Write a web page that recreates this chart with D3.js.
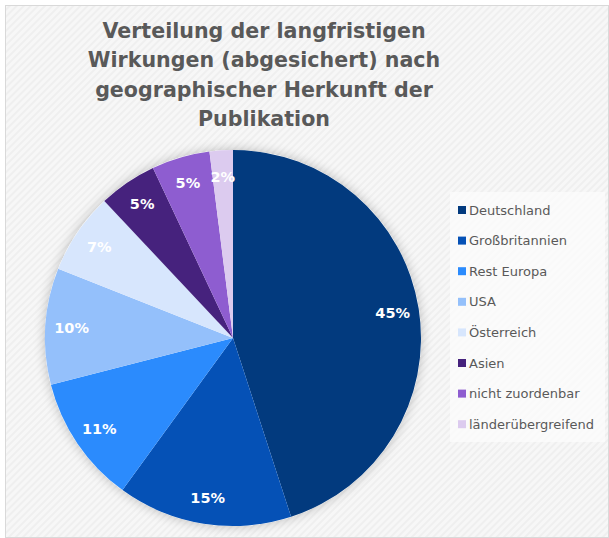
<!DOCTYPE html>
<html>
<head>
<meta charset="utf-8">
<script src="https://cdn.jsdelivr.net/npm/d3@7"></script>
<style>
  html, body { margin: 0; padding: 0; background: #fff; }
  svg { display: block; font-family: "DejaVu Sans", Verdana, sans-serif; }
</style>
</head>
<body>
<div id="chart"></div>
<script>
// data
const titleLines = [
  'Verteilung der langfristigen',
  'Wirkungen (abgesichert) nach',
  'geographischer Herkunft der',
  'Publikation'
];
const categories = ['Deutschland', 'Großbritannien', 'Rest Europa', 'USA',
                    'Österreich', 'Asien', 'nicht zuordenbar', 'länderübergreifend'];
const values = [45, 15, 11, 10, 7, 5, 5, 2];
const colors = ['#023a7e', '#0551b6', '#2b8bfd', '#94c0fb',
                '#d7e6fd', '#46227d', '#8e5dd0', '#dccbef'];

const W = 609, H = 538;
const cx = 233, cy = 338, R = 188;

const svg = d3.select('#chart').append('svg')
  .attr('width', W).attr('height', H);

const defs = svg.append('defs');
const pat = defs.append('pattern')
  .attr('id', 'hatch').attr('patternUnits', 'userSpaceOnUse')
  .attr('width', 5).attr('height', 5)
  .attr('patternTransform', 'rotate(45)');
pat.append('rect').attr('width', 5).attr('height', 5).attr('fill', '#f7f7f7');
pat.append('rect').attr('width', 2).attr('height', 5).attr('fill', '#efefef');

const shadow = defs.append('filter').attr('id', 'shadow')
  .attr('x', '-20%').attr('y', '-20%').attr('width', '140%').attr('height', '140%');
shadow.append('feGaussianBlur').attr('in', 'SourceAlpha').attr('stdDeviation', 6);
shadow.append('feComponentTransfer').append('feFuncA').attr('type', 'linear').attr('slope', 0.25);
const merge = shadow.append('feMerge');
merge.append('feMergeNode');
merge.append('feMergeNode').attr('in', 'SourceGraphic');

// chart area background + border
svg.append('rect')
  .attr('x', 5.5).attr('y', 5.5).attr('width', W - 6).attr('height', H - 6)
  .attr('fill', 'url(#hatch)')
  .attr('stroke', '#d9d9d9').attr('stroke-width', 1);

// title
svg.append('g').selectAll('text')
  .data(titleLines)
  .join('text')
  .attr('x', 264)
  .attr('y', (d, i) => 38 + i * 29.3)
  .attr('text-anchor', 'middle')
  .attr('font-size', 20.6)
  .attr('font-weight', 'bold')
  .attr('fill', '#595959')
  .text(d => d);

// pie
const pie = d3.pie().sort(null).value(d => d);
const arcs = pie(values);
const arc = d3.arc().innerRadius(0).outerRadius(R);
const labelArc = d3.arc().innerRadius(R * 0.86).outerRadius(R * 0.86);

const g = svg.append('g').attr('transform', `translate(${cx},${cy})`);

g.append('circle').attr('r', R).attr('fill', '#fff').attr('filter', 'url(#shadow)');

g.append('g').selectAll('path')
  .data(arcs)
  .join('path')
  .attr('d', arc)
  .attr('fill', (d, i) => colors[i]);

g.append('g').selectAll('text')
  .data(arcs)
  .join('text')
  .attr('transform', d => `translate(${labelArc.centroid(d)})`)
  .attr('text-anchor', 'middle')
  .attr('dy', '0.35em')
  .attr('font-size', 14.5)
  .attr('font-weight', 'bold')
  .attr('fill', '#fff')
  .text(d => d.data + '%');

// legend
svg.append('rect')
  .attr('x', 450).attr('y', 192).attr('width', 155).attr('height', 250)
  .attr('fill', '#fbfbfb').attr('opacity', 0.8);

const legend = svg.append('g').selectAll('g')
  .data(categories)
  .join('g')
  .attr('transform', (d, i) => `translate(458,${210 + i * 30.6})`);

legend.append('rect')
  .attr('x', 0).attr('y', -4).attr('width', 8).attr('height', 8)
  .attr('fill', (d, i) => colors[i]);

legend.append('text')
  .attr('x', 11).attr('dy', '0.35em')
  .attr('font-size', 13)
  .attr('fill', '#595959')
  .text(d => d);
</script>
</body>
</html>
